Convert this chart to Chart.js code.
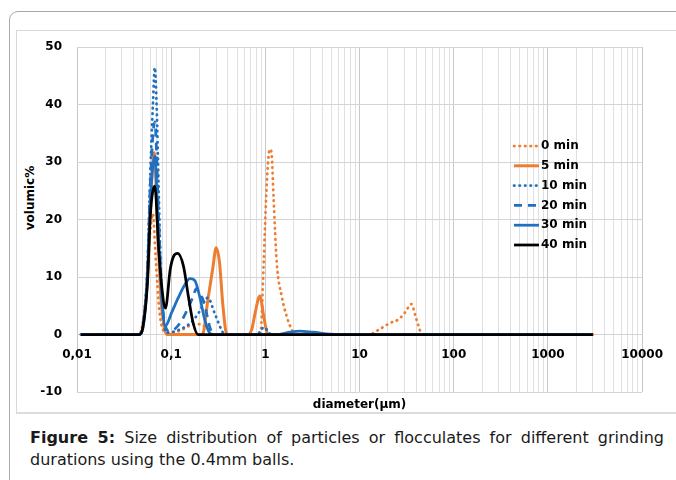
<!DOCTYPE html>
<html>
<head>
<meta charset="utf-8">
<script src="https://cdn.jsdelivr.net/npm/chart.js@4.4.1/dist/chart.umd.min.js"></script>
<style>
  html, body { margin:0; padding:0; background:#fff; width:676px; height:480px; overflow:hidden; }
  #outer { position:absolute; left:9px; top:11px; width:720px; height:520px; border:1px solid #a8a8a8; border-top-left-radius:9px; }
  #inner { position:absolute; left:16px; top:30px; width:720px; height:381px; border:1px solid #d8d8d8; border-bottom:2px solid #dcdcdc; }
  #chart { position:absolute; left:0; top:0; }
  #ytitle { position:absolute; left:30px; top:198px; transform:translate(-50%,-50%) rotate(-90deg); font:bold 12px "DejaVu Sans"; color:#000; white-space:nowrap; }
  #caption { position:absolute; left:30px; top:427px; width:634px; font:16px "DejaVu Sans"; line-height:22px; color:#1a1a1a; text-align:justify; }
  #caption b { font-weight:bold; }
</style>
</head>
<body>
<div id="outer"></div>
<div id="inner"></div>
<div id="ytitle">volumic%</div>
<canvas id="chart" width="676" height="420"></canvas>
<div id="caption"><b>Figure 5:</b> Size distribution of particles or flocculates for different grinding durations using the 0.4mm balls.</div>
<script>
// ---- data (diameter in µm, volumic %) ----
const seriesNames = ['0 min', '5 min', '10 min', '20 min', '30 min', '40 min'];

const d0  = [0.011, 0.045, 0.05, 0.055, 0.06, 0.064, 0.068, 0.075, 0.085, 0.1, 0.13, 0.16, 0.2, 0.24, 0.28, 0.88, 0.90, 0.96, 1.02, 1.08, 1.127, 1.17, 1.22, 1.32, 1.49, 1.68, 1.9, 2.14, 12.5, 16.6, 21.1, 25.8, 30.3, 35.5, 39.2, 42.4, 46, 3000];
const v0  = [0, 0, 2, 8, 18, 21, 14, 4, 0.5, 0.3, 0.8, 1.6, 1.8, 1.0, 0, 0, 0.9, 12.5, 24, 31, 32.2, 31, 24, 12.5, 6.7, 3.2, 0.9, 0, 0, 1, 2, 2.6, 3.8, 5.3, 3.2, 1.4, 0, 0];

const d5  = [0.011, 0.046, 0.05, 0.056, 0.06, 0.066, 0.072, 0.078, 0.085, 0.09, 0.215, 0.245, 0.277, 0.30, 0.326, 0.352, 0.38, 0.40, 0.66, 0.72, 0.78, 0.873, 0.96, 1.03, 1.08, 3000];
const v5  = [0, 0, 1.5, 10, 22, 31.6, 18, 6, 1, 0, 0, 6, 11.6, 15.1, 12.5, 5.5, 0.6, 0, 0, 1, 3.8, 6.7, 3.2, 0.6, 0, 0];

const d10 = [0.011, 0.046, 0.05, 0.056, 0.06, 0.064, 0.067, 0.07, 0.0737, 0.078, 0.083, 0.09, 0.12, 0.16, 0.2, 0.23, 0.245, 0.288, 0.34, 0.37, 0.82, 0.9, 0.97, 1.05, 1.15, 3000];
const v10 = [0, 0, 1.5, 12, 28, 40, 46.4, 40, 25, 10, 2.5, 0.3, 0.8, 2, 4, 6, 6.4, 3.8, 0.9, 0, 0, 0.8, 1.3, 0.7, 0, 0];

const d20 = [0.011, 0.046, 0.05, 0.056, 0.06, 0.067, 0.0737, 0.08, 0.087, 0.095, 0.11, 0.13, 0.15, 0.17, 0.185, 0.2, 0.215, 0.235, 0.26, 0.28, 3000];
const v20 = [0, 0, 1.5, 11, 26, 37, 20, 6, 1.5, 0.6, 1, 2.5, 4.5, 6.5, 8, 7, 6.3, 4, 1, 0, 0];

const d30 = [0.011, 0.046, 0.05, 0.056, 0.06, 0.067, 0.0737, 0.08, 0.087, 0.101, 0.119, 0.14, 0.158, 0.178, 0.2, 0.227, 0.255, 0.27, 1.3, 1.8, 2.3, 3.2, 5, 6, 3000];
const v30 = [0, 0, 1, 10, 23, 31, 16, 6, 1.5, 3.8, 6.4, 8.7, 9.7, 9.4, 6.7, 2.6, 0.3, 0, 0, 0.4, 0.6, 0.4, 0.05, 0, 0];

const d40 = [0.011, 0.046, 0.05, 0.056, 0.06, 0.067, 0.0737, 0.08, 0.087, 0.0976, 0.106, 0.117, 0.135, 0.152, 0.171, 0.193, 3000];
const v40 = [0, 0, 1.2, 9, 20.6, 25.8, 14.8, 7.8, 4.6, 11.3, 13.6, 14.1, 11.9, 6.7, 2, 0, 0];

const decadeValues = [0.01, 0.1, 1, 10, 100, 1000, 10000];
const decadeLabels = ['0,01', '0,1', '1', '10', '100', '1000', '10000'];
const yTicks = [-10, 0, 10, 20, 30, 40, 50];

// ---- styling ----
const ORANGE = '#ED7D31', BLUE = '#1F70C1', BLACK = '#000000';
const DOT = [0.5, 5], DASH = [8, 6];
const styles = [
  {color: ORANGE, dash: DOT, cap: 'round', width: 2.75},
  {color: ORANGE, dash: [], cap: 'butt', width: 3},
  {color: BLUE, dash: DOT, cap: 'round', width: 2.75},
  {color: BLUE, dash: DASH, cap: 'butt', width: 2.75},
  {color: BLUE, dash: [], cap: 'butt', width: 2.75},
  {color: BLACK, dash: [], cap: 'butt', width: 2.75}
];
const xs = [d0, d5, d10, d20, d30, d40];
const ys = [v0, v5, v10, v20, v30, v40];

// grid positions (1..9 per decade)
const gridValues = [];
for (let e = -2; e <= 3; e++) for (let m = 1; m <= 9; m++) gridValues.push(Number((m * Math.pow(10, e)).toPrecision(3)));
gridValues.push(10000);
const isDecade = v => decadeValues.some(d => Math.abs(v / d - 1) < 1e-6);

const datasets = seriesNames.map((name, i) => ({
  label: name,
  data: xs[i].map((x, k) => ({x: x, y: ys[i][k]})),
  borderColor: styles[i].color,
  backgroundColor: styles[i].color,
  borderDash: styles[i].dash,
  borderCapStyle: styles[i].cap,
  borderJoinStyle: 'round',
  borderWidth: styles[i].width,
  pointRadius: 0,
  fill: false,
  cubicInterpolationMode: 'monotone',
  order: seriesNames.length - 1 - i,
  xAxisID: 'x', yAxisID: 'y'
}));

const FONT = {family: 'DejaVu Sans', size: 12, weight: 'bold'};

const legendPlugin = {
  id: 'insideLegend',
  afterDraw(chart) {
    const ctx = chart.ctx, ca = chart.chartArea;
    const x0 = ca.left + 437, y0 = ca.top + 99;
    ctx.save();
    chart.data.datasets.forEach((ds, i) => {
      const y = y0 + i * 19.8;
      ctx.beginPath();
      ctx.strokeStyle = ds.borderColor;
      ctx.lineWidth = ds.borderWidth;
      ctx.lineCap = ds.borderCapStyle;
      ctx.setLineDash(ds.borderDash);
      ctx.moveTo(x0, y); ctx.lineTo(x0 + 25, y);
      ctx.stroke();
      ctx.setLineDash([]);
      ctx.fillStyle = '#000';
      ctx.font = 'bold 12px "DejaVu Sans"';
      ctx.textBaseline = 'middle';
      ctx.textAlign = 'left';
      ctx.fillText(ds.label, x0 + 27, y);
    });
    ctx.restore();
  }
};

new Chart(document.getElementById('chart'), {
  type: 'line',
  data: {datasets},
  plugins: [legendPlugin],
  options: {
    responsive: false,
    animation: false,
    devicePixelRatio: 1,
    layout: {padding: {left: 40, right: 25, top: 47, bottom: 0}},
    plugins: {legend: {display: false}, tooltip: {enabled: false}, title: {display: false}},
    scales: {
      x: {
        type: 'logarithmic',
        position: {y: 0},
        min: 0.01, max: 10000,
        afterBuildTicks: s => { s.ticks = gridValues.map(v => ({value: v, major: isDecade(v)})); },
        ticks: {
          autoSkip: false, maxRotation: 0, minRotation: 0, padding: 13,
          font: FONT, color: '#000',
          callback: (v) => { const k = decadeValues.findIndex(d => Math.abs(v / d - 1) < 1e-6); return k >= 0 ? decadeLabels[k] : ''; }
        },
        grid: {drawTicks: false, lineWidth: 1, color: c => (c.tick && isDecade(c.tick.value)) ? '#c8c8c8' : '#e0e0e0'},
        border: {display: false}
      },
      x2: {
        type: 'logarithmic',
        position: 'bottom',
        min: 0.01, max: 10000,
        grid: {display: false, drawTicks: false},
        ticks: {display: false},
        border: {display: false},
        title: {display: true, text: 'diameter(μm)', font: FONT, color: '#000', padding: {top: 4, bottom: 8}},
        afterFit: s => { s.height = 28; }
      },
      y: {
        type: 'linear',
        min: -10, max: 50,
        afterBuildTicks: s => { s.ticks = yTicks.map(v => ({value: v})); },
        ticks: {padding: 15, font: FONT, color: '#000'},
        grid: {drawTicks: false, color: '#d4d4d4', lineWidth: 1},
        border: {display: false},
        afterFit: s => { s.width = 37; }
      }
    }
  }
});
</script>
</body>
</html>
